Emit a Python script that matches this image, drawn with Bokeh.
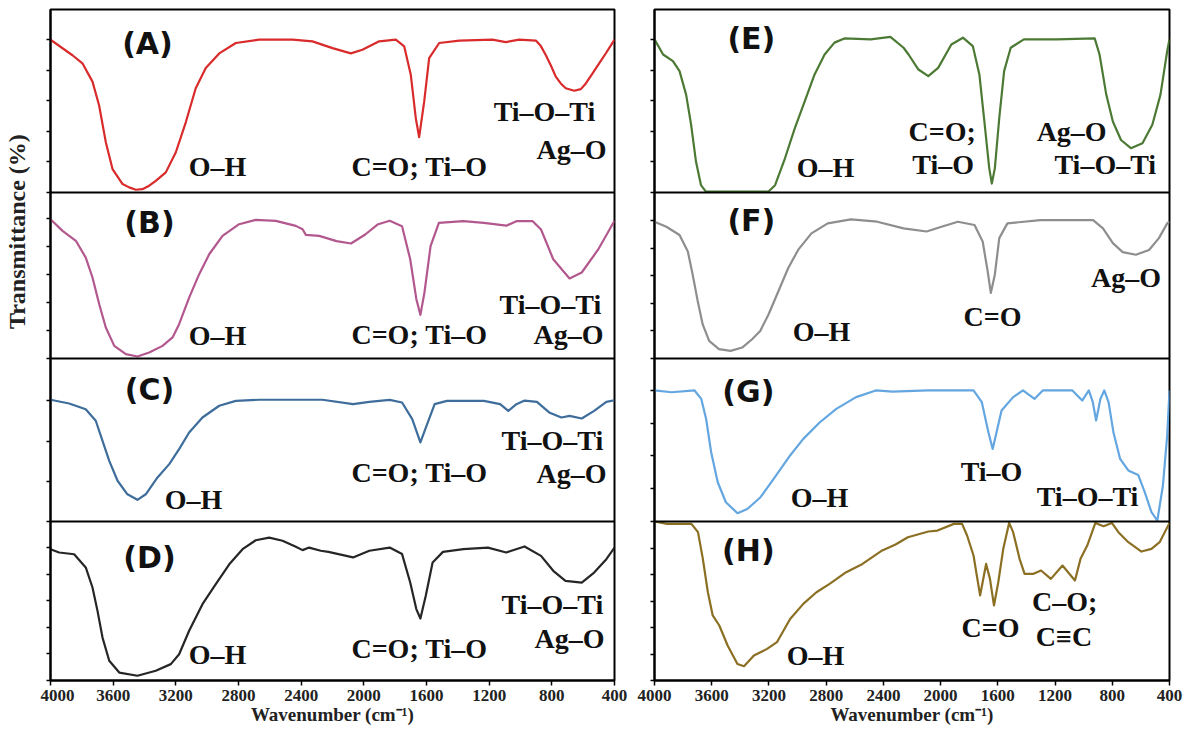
from math import pi
from bokeh.plotting import figure
from bokeh.layouts import row
from bokeh.models import Range1d, FixedTicker, Span, CustomJSTickFormatter
from bokeh.core.properties import value
from bokeh.embed import file_html
from bokeh.resources import INLINE

# ---------------- data (wavenumber cm-1, transmittance in panel-relative %) ----------------
x_ticks = [4000, 3600, 3200, 2800, 2400, 2000, 1600, 1200, 800, 400]

wn_A = [4000, 3860, 3796, 3732, 3690, 3647, 3604, 3540, 3498, 3455, 3413, 3370, 3328, 3264, 3200,
        3136, 3073, 3009, 2923, 2817, 2668, 2455, 2328, 2200, 2083, 2009, 1902, 1796, 1742, 1700,
        1668, 1647, 1615, 1583, 1519, 1391, 1179, 1094, 1008, 902, 870, 838, 806, 775, 743,
        711, 657, 615, 583, 540, 498, 455, 400]
tr_A = [83.5, 75, 70.6, 60.6, 47.7, 27.5, 12.8, 4.6, 2.8, 1.5, 1.8, 3.7, 6.4, 11, 22,
        38.5, 57, 68, 76, 81.7, 83.5, 83.5, 82.6, 78.9, 76, 78, 82.6, 83.5, 79.8, 64.2,
        40.4, 30.3, 49.5, 73.4, 81.7, 83, 83.5, 82.2, 83.5, 83, 80, 75, 69.4, 63.3, 59.6,
        57, 55.6, 56.5, 59.6, 65.1, 70.6, 76.1, 83.5]

wn_B = [4000, 3923, 3838, 3775, 3732, 3689, 3647, 3593, 3519, 3445, 3370, 3285, 3221, 3179, 3115,
        3051, 2987, 2902, 2796, 2690, 2562, 2434, 2391, 2370, 2285, 2174, 2082, 1991, 1913, 1835,
        1756, 1704, 1665, 1639, 1613, 1574, 1521, 1365, 1234, 1091, 1026, 922, 869, 791, 687,
        609, 504, 400]
tr_B = [83.9, 76.9, 70.9, 60.8, 48.8, 32.7, 18.7, 7.6, 2.6, 1.2, 3.6, 7.6, 12.7, 20.7, 36.7,
        50.8, 62.8, 73.9, 80.9, 83.5, 82.9, 79.9, 77.9, 74.5, 73.9, 70.7, 69.3, 74.7, 80.7, 83,
        79.7, 59.8, 35.9, 26.3, 39.8, 67.7, 81.7, 82.7, 81.7, 80, 82.7, 82.7, 77.7, 59.8, 48.2,
        51.8, 65.7, 83]

wn_C = [4000, 3881, 3775, 3711, 3668, 3625, 3572, 3509, 3445, 3392, 3317, 3242, 3179, 3115, 3030,
        2923, 2817, 2668, 2264, 2069, 1965, 1835, 1756, 1691, 1639, 1600, 1548, 1469, 1234, 1130,
        1078, 1026, 974, 895, 817, 739, 687, 609, 530, 452, 400]
tr_C = [74.7, 72.4, 68.9, 61.8, 49.5, 37.2, 25, 16.7, 13.3, 16.7, 27, 35.2, 44.4, 54.6, 63.8,
        71, 74, 74.7, 74.7, 72, 73.4, 74.6, 73, 62.8, 48.5, 58.7, 72, 74, 74, 72,
        67.9, 72, 74.2, 73.4, 66.9, 63.8, 64.8, 63.2, 67.9, 73.4, 74.4]

wn_D = [4000, 3945, 3849, 3775, 3732, 3700, 3668, 3625, 3561, 3445, 3328, 3232, 3179, 3115, 3030,
        2945, 2859, 2774, 2690, 2604, 2519, 2434, 2391, 2349, 2275, 2226, 2069, 1965, 1835, 1756,
        1704, 1665, 1639, 1605, 1561, 1495, 1365, 1208, 1091, 974, 869, 791, 713, 609, 530,
        452, 400]
tr_D = [82.6, 80.5, 79.4, 71.1, 58.5, 43.8, 27, 12.4, 5, 3, 6.1, 10.3, 16.5, 31.3, 48,
        60.6, 73.1, 82.6, 88.2, 89.9, 87.9, 84.1, 82, 83.6, 81.6, 80.9, 77.4, 81.6, 83.6, 79.5,
        61.6, 44.9, 39, 53.2, 74.2, 80.9, 82.6, 83.6, 80.5, 84.3, 78.4, 69, 62.7, 61.6, 67.9,
        76.3, 83.6]

wn_E = [4000, 3940, 3871, 3825, 3779, 3744, 3710, 3675, 3641, 3203, 3157, 3088, 3019, 2950, 2881,
        2811, 2742, 2673, 2489, 2351, 2259, 2224, 2155, 2086, 2017, 1925, 1844, 1775, 1729, 1694,
        1660, 1642, 1621, 1590, 1556, 1510, 1418, 1188, 923, 889, 842, 796, 739, 670, 589,
        520, 463, 416, 400]
tr_E = [83.7, 75.4, 71.8, 66.3, 53.5, 37, 16.9, 4, 0.5, 0.5, 4, 18.7, 35.2, 49.8, 64.5,
        75.4, 81.9, 84.2, 83.7, 85, 79.1, 75.4, 67.2, 63.6, 68.1, 80.9, 84.6, 80, 64.5, 38.8,
        13.2, 4.9, 13.2, 40.7, 66.3, 79.1, 83.7, 83.7, 84.2, 75.4, 53.5, 38.8, 28.7, 24.2, 26.9,
        37, 53.5, 77.3, 83.7]

wn_F = [4000, 3917, 3825, 3767, 3733, 3698, 3663, 3618, 3549, 3468, 3387, 3318, 3261, 3203, 3134,
        3065, 2996, 2903, 2789, 2627, 2443, 2259, 2098, 1994, 1879, 1763, 1706, 1671, 1649, 1621,
        1590, 1533, 1303, 934, 865, 796, 727, 635, 543, 474, 416, 400]
tr_F = [82.4, 79.4, 74.4, 64.5, 50.5, 34.6, 20.5, 10.6, 5.6, 4.6, 6.6, 11.6, 16.6, 26.5, 40.5,
        54.5, 65.4, 75.4, 81.4, 83.8, 82.4, 78.4, 76.5, 79.4, 82.4, 80.4, 70.5, 52.5, 39.5, 50.5,
        72.5, 81.4, 83.4, 83.4, 78.4, 69.5, 64.1, 62.5, 65.4, 72.5, 81.4, 82.4]

wn_G = [4000, 3880, 3720, 3673, 3639, 3604, 3558, 3501, 3420, 3351, 3259, 3167, 3052, 2960, 2844,
        2729, 2591, 2453, 2338, 2085, 1770, 1712, 1666, 1636, 1609, 1574, 1493, 1424, 1344, 1286,
        1079, 1010, 964, 936, 913, 883, 856, 826, 792, 745, 688, 619, 573, 526, 485, 446, 416, 400]
tr_G = [80.4, 79.3, 80.4, 75.2, 62.9, 42.5, 24.1, 11.8, 5.1, 7.7, 14.9, 26.1, 40.5, 50.7, 60.9,
        69.1, 76.3, 80.4, 79.7, 80.4, 80.4, 73.2, 54.8, 44.5, 54.8, 68.1, 76.3, 80.4, 75.2, 80.4,
        80.4, 74.2, 80.4, 73.2, 62, 75.2, 80.4, 73.2, 54.8, 38.4, 31.3, 28.6, 18, 5.7, 0.6, 22.1, 52.8, 80.4]

wn_H = [4000, 3912, 3742, 3696, 3662, 3627, 3593, 3547, 3489, 3420, 3374, 3305, 3213, 3144, 3052,
        2960, 2868, 2776, 2660, 2546, 2408, 2315, 2229, 2085, 2022, 1907, 1850, 1815, 1770, 1724,
        1682, 1655, 1627, 1597, 1562, 1521, 1493, 1448, 1413, 1355, 1298, 1229, 1148, 1061, 1022,
        975, 918, 861, 803, 757, 688, 596, 526, 469, 400]
tr_H = [100, 98.5, 98.5, 93.3, 76.5, 55.5, 40.9, 34.6, 22, 10.4, 9, 15.7, 19.9, 24.1, 38.7,
        48.2, 55.5, 60.8, 68.1, 73.3, 81.8, 85.5, 90.1, 93.7, 94.3, 98.5, 98.5, 91.2, 78.6, 53.5,
        73.3, 63.9, 47.2, 61.8, 82.8, 99.1, 93.3, 76.5, 67, 67, 69.2, 63.9, 72.3, 62.9, 76.5,
        84.9, 99.1, 97, 99.1, 93.3, 87, 81.1, 82.8, 87, 99.1]

series = {"A": (wn_A, tr_A), "B": (wn_B, tr_B), "C": (wn_C, tr_C), "D": (wn_D, tr_D),
          "E": (wn_E, tr_E), "F": (wn_F, tr_F), "G": (wn_G, tr_G), "H": (wn_H, tr_H)}

colors = {"A": "#d92b2b", "B": "#b2588e", "C": "#3e6d9c", "D": "#262626",
          "E": "#4c7a34", "F": "#8e8e8e", "G": "#64a6e0", "H": "#8b6f22"}

# band annotations: (text, wavenumber, column y)
ann_left = [
    ("O–H", 2934, 514), ("C=O; Ti–O", 1645, 514), ("Ti–O–Ti", 847, 569), ("Ag–O", 674, 531),
    ("O–H", 2934, 345), ("C=O; Ti–O", 1645, 346), ("Ti–O–Ti", 809, 376), ("Ag–O", 694, 346),
    ("O–H", 3087, 181), ("C=O; Ti–O", 1645, 208), ("Ti–O–Ti", 796, 240), ("Ag–O", 674, 207),
    ("O–H", 2934, 26), ("C=O; Ti–O", 1645, 32), ("Ti–O–Ti", 796, 76), ("Ag–O", 687, 42),
]
ann_right = [
    ("O–H", 2805, 513), ("C=O;", 1989, 549), ("Ti–O", 1982, 516), ("Ag–O", 1084, 549), ("Ti–O–Ti", 849, 516),
    ("O–H", 2832, 349), ("C=O", 1637, 364), ("Ag–O", 704, 403),
    ("O–H", 2846, 183), ("Ti–O", 1644, 209), ("Ti–O–Ti", 973, 184),
    ("O–H", 2874, 25), ("C=O", 1651, 53), ("C–O;", 1132, 79), ("C≡C", 1138, 44),
]
panel_tags_left = [("(A)", 3381, 637), ("(B)", 3368, 458), ("(C)", 3368, 291), ("(D)", 3368, 123)]
panel_tags_right = [("(E)", 3323, 642), ("(F)", 3323, 460), ("(G)", 3344, 289), ("(H)", 3344, 130)]

# ---------------- layout constants ----------------
FIG_H = 737
TOP, BOTTOM = 9, 57
Y_MAX = 671
BANDS = {"A": (488, 183), "B": (322, 166), "C": (159, 163), "D": (0, 159),
         "E": (488, 183), "F": (322, 166), "G": (159, 163), "H": (0, 159)}
TICKS = {"A": (5, 83.5), "B": (5, 84.3), "C": (3, 74), "D": (5, 83.6),
         "E": (5, 83.5), "F": (5, 83.2), "G": (4, 80.4), "H": (6, 100)}
SERIF = "'Liberation Serif', 'Times New Roman', serif"


def panel_y(name, vals):
    b, h = BANDS[name]
    return [b + v / 100.0 * h for v in vals]


def make_column(names, width, left, right, anns, tags):
    p = figure(width=width, height=FIG_H, x_range=Range1d(4000, 400), y_range=Range1d(0, Y_MAX),
               output_backend="svg", toolbar_location=None,
               min_border_left=left, min_border_right=right,
               min_border_top=TOP, min_border_bottom=BOTTOM)
    p.grid.visible = False
    p.outline_line_color = "black"
    p.outline_line_width = 2
    p.outline_line_alpha = 1
    p.background_fill_color = "white"

    xa = p.xaxis[0]
    xa.ticker = FixedTicker(ticks=x_ticks, minor_ticks=[])
    xa.major_label_text_font = SERIF
    xa.major_label_text_font_style = "bold"
    xa.major_label_text_font_size = "17px"
    xa.major_label_text_color = "#222222"
    xa.major_label_standoff = 4
    xa.major_tick_out = 5
    xa.major_tick_in = 0
    xa.major_tick_line_width = 1.5
    xa.axis_line_width = 2
    xa.axis_label = "Wavenumber (cm⁻¹)"
    xa.axis_label_text_font = SERIF
    xa.axis_label_text_font_style = "bold"
    xa.axis_label_text_font_size = "19px"
    xa.axis_label_text_color = "#222222"
    xa.axis_label_standoff = 0

    yt = set()
    for n in names:
        b, h = BANDS[n]
        k, top = TICKS[n]
        for i in range(k + 1):
            yt.add(round(b + i * (top / 100.0 * h) / k, 2))
    ya = p.yaxis[0]
    ya.ticker = FixedTicker(ticks=sorted(yt), minor_ticks=[])
    ya.formatter = CustomJSTickFormatter(code="return ''")
    ya.major_label_standoff = 0
    ya.major_tick_out = 4
    ya.major_tick_in = 0
    ya.major_tick_line_width = 1.5
    ya.axis_line_width = 2

    for n in names:
        wn, tr = series[n]
        p.line(wn, panel_y(n, tr), line_color=colors[n], line_width=2.2, line_join="round")

    for n in names:
        b, h = BANDS[n]
        if b > 0:
            p.add_layout(Span(location=b, dimension="width", line_color="black", line_width=2))

    p.text(x=[a[1] for a in anns], y=[a[2] for a in anns], text=[a[0] for a in anns],
           text_font=value(SERIF), text_font_style="bold", text_font_size="28px",
           text_align="center", text_baseline="middle", text_color="#111111")
    p.text(x=[a[1] for a in tags], y=[a[2] for a in tags], text=[a[0] for a in tags],
           text_font=value("'DejaVu Sans', sans-serif"), text_font_style="bold", text_font_size="30px",
           text_align="center", text_baseline="middle", text_color="#111111")
    return p


lab = figure(width=40, height=FIG_H, x_range=Range1d(0, 40), y_range=Range1d(0, FIG_H),
             output_backend="svg", toolbar_location=None, min_border=0,
             x_axis_location=None, y_axis_location=None)
lab.grid.visible = False
lab.outline_line_color = None
lab.text(x=[16], y=[493], text=["Transmittance (%)"], angle=pi / 2,
         text_font=value(SERIF), text_font_style="bold", text_font_size="24px",
         text_align="center", text_baseline="middle", text_color="#222222")

left = make_column(["A", "B", "C", "D"], 592, 10, 18, ann_left, panel_tags_left)
right = make_column(["E", "F", "G", "H"], 551, 22, 14, ann_right, panel_tags_right)

layout = row(lab, left, right)
open("out.html", "w").write(file_html(layout, INLINE))
